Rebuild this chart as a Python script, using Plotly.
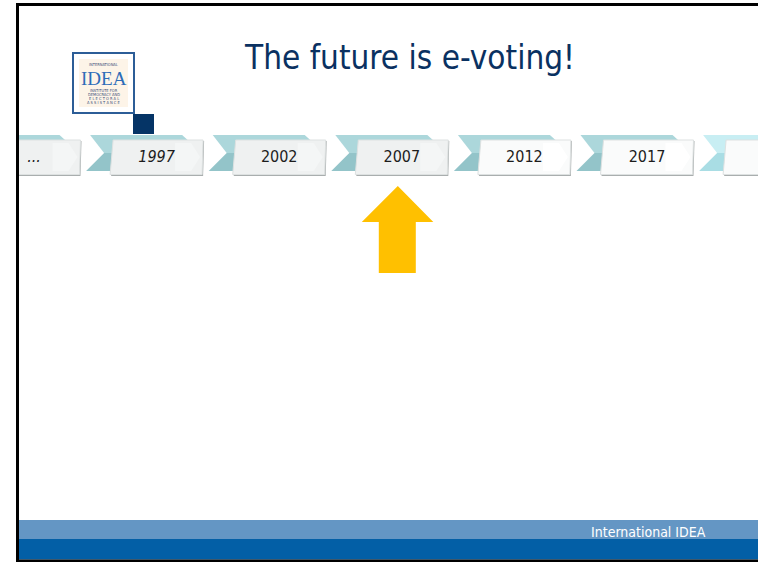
import plotly.graph_objects as go

# timeline content
labels = ["...", "1997", "2002", "2007", "2012", "2017", ""]
italic = [True, True, False, False, False, False, False]
highlight = "2007"

title = "The future is e-voting!"
footer = "International IDEA"

W, H = 758, 562
STEP = 122.6
BOX_X0 = -12.5
BOX_W = 93
TOP, MID, BOT = 135, 153, 171

shapes = []


def poly(pts, color, line=None):
    d = "M " + " L ".join(f"{x:.1f},{y:.1f}" for x, y in pts) + " Z"
    shapes.append(dict(type="path", path=d, xref="x", yref="y", fillcolor=color,
                       line=dict(width=0 if line is None else 1, color=line or color),
                       layer="below"))


def rect(x0, x1, y0, y1, fill, line=None, lw=0):
    shapes.append(dict(type="rect", x0=x0, x1=x1, y0=y0, y1=y1, xref="x", yref="y",
                       fillcolor=fill, line=dict(color=line or fill, width=lw), layer="below"))


# footer bands
rect(19, W, 520, 539, "#6496c4")
rect(19, W, 539, 559.5, "#035fa6")

# chevrons behind the boxes
for i, lab in enumerate(labels):
    xl = BOX_X0 + i * STEP - 20
    light = i == len(labels) - 1
    up = "#c8eef3" if light else "#acd7db"
    lo = "#a9dde4" if light else "#93c4c9"
    poly([(xl, TOP), (xl + 92, TOP), (xl + 112, MID), (xl + 14, MID)], up)
    poly([(xl + 14, MID), (xl + 112, MID), (xl + 92, BOT), (xl - 4, BOT)], lo)

# label boxes
for i, lab in enumerate(labels):
    x0 = BOX_X0 + i * STEP
    x1 = x0 + BOX_W
    fill = "#eff1f1" if i < 4 else "#fafbfb"
    poly([(x0 + 4, 141), (x1 + 1, 141), (x1, 176), (x0 + 1, 176)], "#a9aeae")
    poly([(x0 + 3, 140), (x1, 140), (x1 - 1, 174.5), (x0, 174.5)], fill, line="#dde1e1")
    # faint arrow inside the box
    poly([(x1 - 28, 143), (x1 - 12, 143), (x1 - 3, 157), (x1 - 12, 171), (x1 - 28, 171)],
         "#f4f6f6" if i < 4 else "#ffffff")

centers = [BOX_X0 + i * STEP + BOX_W / 2 for i in range(len(labels))]
texts = [f"<i>{t}</i>" if it else t for t, it in zip(labels, italic)]

fig = go.Figure()
fig.add_trace(go.Scatter(
    x=centers, y=[157.5] * len(labels), mode="text", text=texts,
    textfont=dict(family="DejaVu Sans Condensed", size=16, color="#1d1d1d"),
    hoverinfo="skip", showlegend=False,
))

# yellow arrow pointing at the highlighted year
cx = centers[labels.index(highlight)] - 4
poly([(cx, 186), (cx + 35.5, 222), (cx + 18, 222), (cx + 18, 273),
      (cx - 19, 273), (cx - 19, 222), (cx - 36, 222)], "#ffc000")

# logo
rect(73, 134, 53, 113, "white", line="#2c5d97", lw=2)
rect(79, 128, 59, 107, "#fdf4e8")
rect(133, 154, 114, 134, "#053466")

# outside the slide stays white, then the black frame
rect(0, 16.5, 0, H, "white")
shapes.append(dict(type="rect", x0=17.5, x1=W + 3, y0=4.5, y1=561, xref="x", yref="y",
                   line=dict(color="black", width=3), fillcolor="rgba(0,0,0,0)", layer="below"))

small = dict(family="DejaVu Sans Condensed", size=4, color="#3b4f78")
annotations = [
    dict(x=103.5, y=64, text="INTERNATIONAL", font=small),
    dict(x=103.5, y=78, text="IDEA", font=dict(family="Liberation Serif", size=19, color="#2d6cb8")),
    dict(x=103.5, y=90, text="INSTITUTE FOR", font=small),
    dict(x=103.5, y=94, text="DEMOCRACY AND", font=small),
    dict(x=103.5, y=98, text="E L E C T O R A L", font=small),
    dict(x=103.5, y=102, text="A S S I S T A N C E", font=small),
    dict(x=409, y=57, text=title, font=dict(family="DejaVu Sans Condensed", size=33, color="#0a3161")),
    dict(x=648, y=532, text=footer, font=dict(family="DejaVu Sans Condensed", size=14, color="white")),
]
for a in annotations:
    a.update(xref="x", yref="y", showarrow=False, xanchor="center", yanchor="middle")

fig.update_layout(
    width=W, height=H, margin=dict(l=0, r=0, t=0, b=0),
    paper_bgcolor="white", plot_bgcolor="white",
    xaxis=dict(range=[0, W], visible=False, fixedrange=True),
    yaxis=dict(range=[H, 0], visible=False, fixedrange=True),
    shapes=shapes, annotations=annotations,
)

fig.write_html("out.html", config={"displayModeBar": False},
               post_script="document.body.style.margin='0';")
